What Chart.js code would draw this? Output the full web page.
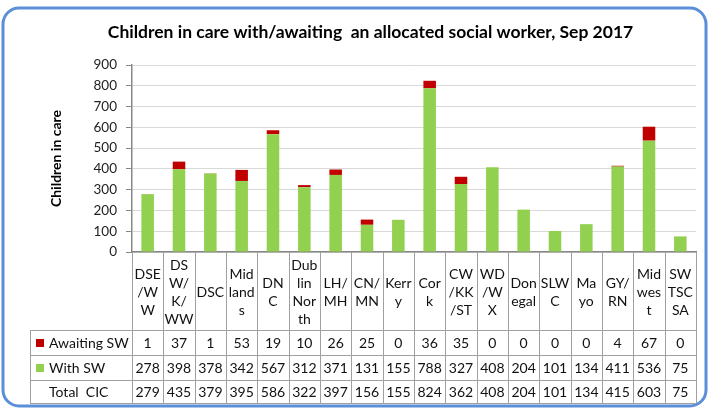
<!DOCTYPE html>
<html>
<head>
<meta charset="utf-8">
<script src="https://cdn.jsdelivr.net/npm/chart.js@4"></script>
<style>
  html, body { margin: 0; padding: 0; background: #fff; }
  #wrap { width: 708px; height: 409px; }
</style>
</head>
<body>
<div id="wrap"><canvas id="myChart" width="708" height="409"></canvas></div>
<script>
// data
let categories = [
  ["DSE", "/W", "W"], ["DS", "W/", "K/", "WW"], ["DSC"], ["Mid", "land", "s"],
  ["DN", "C"], ["Dub", "lin", "Nor", "th"], ["LH/", "MH"], ["CN/", "MN"],
  ["Kerr", "y"], ["Cor", "k"], ["CW", "/KK", "/ST"], ["WD", "/W", "X"],
  ["Don", "egal"], ["SLW", "C"], ["Ma", "yo"], ["GY/", "RN"],
  ["Mid", "wes", "t"], ["SW", "TSC", "SA"]
];
let awaitingSW = [1, 37, 1, 53, 19, 10, 26, 25, 0, 36, 35, 0, 0, 0, 0, 4, 67, 0];
let withSW = [278, 398, 378, 342, 567, 312, 371, 131, 155, 788, 327, 408, 204, 101, 134, 411, 536, 75];
let totalCIC = [279, 435, 379, 395, 586, 322, 397, 156, 155, 824, 362, 408, 204, 101, 134, 415, 603, 75];
let yTicks = [0, 100, 200, 300, 400, 500, 600, 700, 800, 900];

const FONT = "Lato, 'Open Sans', sans-serif";
const GREEN = "#92d050";
const RED = "#c00000";
const AXIS = "#878787";
const LINE = "#a0a0a0";

// table rows under the plot
const rowTop = 252, rowLbl = 330, rowAw = 355, rowWith = 380, rowEnd = 403;
const headLeft = 30;

const frame = {
  id: "frame",
  beforeDraw(chart) {
    const c = chart.ctx;
    c.save();
    c.fillStyle = "#fff";
    c.fillRect(0, 0, chart.width, chart.height);
    c.strokeStyle = "#5b8fd8";
    c.lineWidth = 3;
    c.beginPath();
    c.roundRect(3, 8, 703, 398, 16);
    c.stroke();
    c.restore();
  }
};

const table = {
  id: "table",
  afterDraw(chart) {
    const c = chart.ctx;
    const x = chart.scales.x;
    const a = chart.chartArea;
    const w = (a.right - a.left) / categories.length;
    c.save();
    c.strokeStyle = LINE;
    c.lineWidth = 1;
    c.beginPath();
    for (let i = 0; i <= categories.length; i++) {
      const px = Math.round(a.left + i * w) + 0.5;
      c.moveTo(px, rowTop);
      c.lineTo(px, rowEnd);
    }
    [rowLbl, rowAw, rowWith, rowEnd].forEach(y => {
      c.moveTo(headLeft, y + 0.5);
      c.lineTo(a.right, y + 0.5);
    });
    c.moveTo(headLeft + 0.5, rowLbl);
    c.lineTo(headLeft + 0.5, rowEnd);
    c.stroke();

    c.fillStyle = "#111";
    c.textAlign = "center";
    c.textBaseline = "middle";
    c.font = "14px " + FONT;
    const lh = 18;
    categories.forEach((lines, i) => {
      const cx = x.getPixelForValue(i);
      const mid = (rowTop + rowLbl) / 2 + 1;
      lines.forEach((t, k) => {
        c.fillText(t, cx, mid + (k - (lines.length - 1) / 2) * lh);
      });
      c.fillText(String(awaitingSW[i]), cx, (rowLbl + rowAw) / 2 + 1);
      c.fillText(String(withSW[i]), cx, (rowAw + rowWith) / 2 + 1);
      c.fillText(String(totalCIC[i]), cx, (rowWith + rowEnd) / 2 + 1);
    });

    // legend keys in the header column
    c.textAlign = "left";
    c.fillStyle = RED;
    c.fillRect(36, 339, 8, 8);
    c.fillStyle = GREEN;
    c.fillRect(36, 364, 8, 8);
    c.fillStyle = "#111";
    c.fillText("Awaiting SW", 49, (rowLbl + rowAw) / 2 + 1);
    c.fillText("With SW", 49, (rowAw + rowWith) / 2 + 1);
    c.fillText("Total  CIC", 49, (rowWith + rowEnd) / 2 + 1);
    c.restore();
  }
};

let myChart = document.getElementById("myChart").getContext("2d");
let cicChart = new Chart(myChart, {
  type: "bar",
  data: {
    labels: categories,
    datasets: [
      {
        label: "With SW",
        data: withSW,
        backgroundColor: GREEN,
        borderWidth: 0,
      },
      {
        label: "Awaiting SW",
        data: awaitingSW,
        backgroundColor: RED,
        borderWidth: 0,
      },
    ],
  },
  options: {
    responsive: false,
    animation: false,
    layout: { padding: { left: 45, right: 12, top: 0, bottom: 157 } },
    datasets: { bar: { categoryPercentage: 1, barPercentage: 0.4 } },
    plugins: {
      legend: { display: false },
      tooltip: { enabled: false },
      title: {
        display: true,
        text: "Children in care with/awaiting  an allocated social worker, Sep 2017",
        color: "#000",
        font: { family: FONT, size: 17.5, weight: "bold" },
        padding: { top: 22, bottom: 22 },
      },
    },
    scales: {
      x: {
        stacked: true,
        ticks: { display: false },
        grid: { display: false },
        border: { color: AXIS, width: 1.5 },
        afterFit(s) { s.height = 0; },
      },
      y: {
        stacked: true,
        min: 0,
        max: 900,
        afterBuildTicks(s) { s.ticks = yTicks.map(v => ({ value: v })); },
        ticks: {
          padding: 9,
          color: "#222",
          font: { family: FONT, size: 13.5 },
        },
        grid: {
          color: "#d9d9d9",
          borderDash: [4, 3],
          tickLength: 6,
          tickColor: AXIS,
          tickBorderDash: [],
        },
        border: { color: AXIS, width: 1.5 },
        title: {
          display: true,
          text: "Children in care",
          color: "#000",
          font: { family: FONT, size: 14, weight: "bold" },
          padding: { top: 3, bottom: 0 },
        },
        afterFit(s) { s.width = 87; },
      },
    },
  },
  plugins: [frame, table],
});
</script>
</body>
</html>
